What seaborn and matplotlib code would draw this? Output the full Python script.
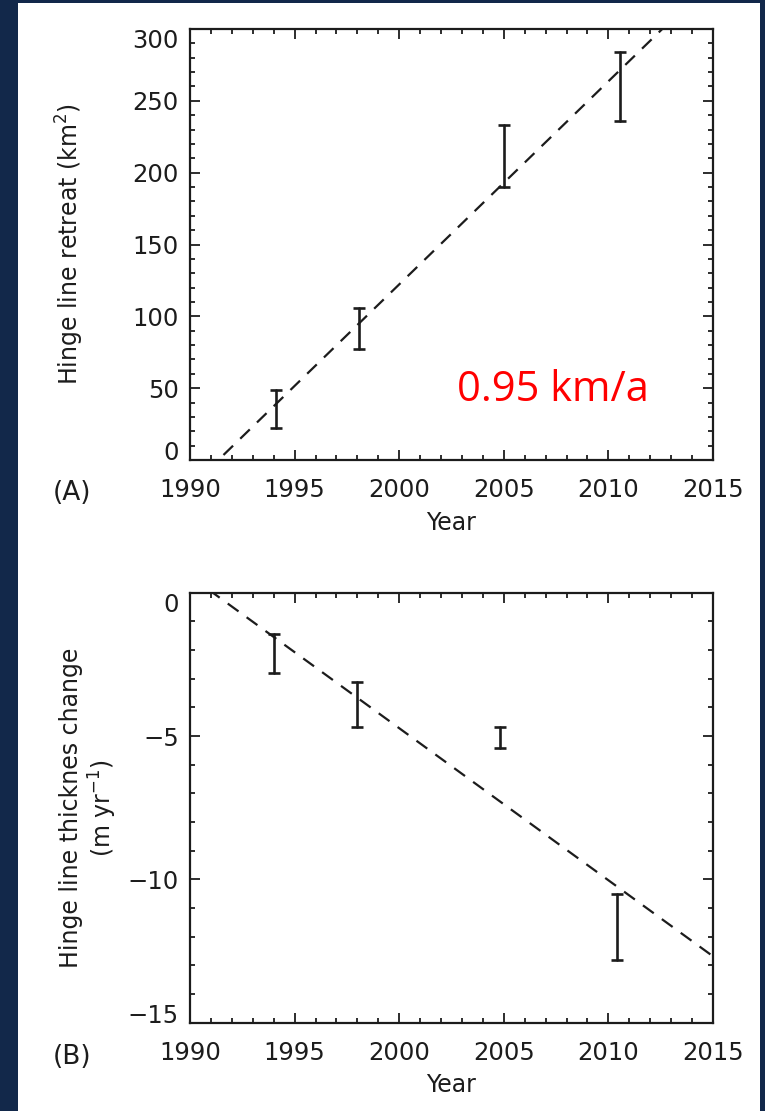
import matplotlib
matplotlib.use('Agg')
import matplotlib.pyplot as plt
import matplotlib.ticker as mticker
from matplotlib.patches import Rectangle
import seaborn as sns
import pandas as pd

# --- values ---
years_a = [1994.1, 1998.1, 2005.0, 2010.55]
retreat_low = [22, 77, 190, 236]
retreat_high = [49, 106, 233, 284]

years_b = [1994.0, 1998.0, 2004.8, 2010.4]
thick_low = [-2.8, -4.7, -5.4, -12.8]
thick_high = [-1.45, -3.1, -4.7, -10.5]

year_ticks = [1990, 1995, 2000, 2005, 2010, 2015]
retreat_ticks = [0, 50, 100, 150, 200, 250, 300]
thick_ticks = [-15, -10, -5, 0]
rate_note = '0.95 km/a'

NAVY = '#12284a'
INK = '#1c1c1c'

sns.set_theme(style='ticks')
plt.rcParams['font.family'] = ['DejaVu Sans']
plt.rcParams.update({
    'mathtext.default': 'regular',
    'axes.linewidth': 1.6,
    'axes.edgecolor': INK,
    'text.color': INK,
    'axes.labelcolor': INK,
    'xtick.color': INK,
    'ytick.color': INK,
})

fig = plt.figure(figsize=(7.65, 11.11), dpi=100)
fig.patch.set_facecolor(NAVY)
fig.add_artist(Rectangle((18 / 765, 0), (760 - 18) / 765, 1 - 3 / 1111,
                         transform=fig.transFigure, facecolor='white',
                         edgecolor='none', zorder=-10))

ax_a = fig.add_axes([190 / 765, 1 - 460 / 1111, 523 / 765, 431 / 1111])
ax_b = fig.add_axes([190 / 765, 1 - 1022.7 / 1111, 523 / 765, 430 / 1111])


def panel(ax, years, low, high, yticks, ystep, ylabel, label_x):
    ax.set_facecolor('white')
    ax.set_xlim(year_ticks[0], year_ticks[-1])
    ax.set_ylim(yticks[0], yticks[-1])

    # error bars: min..max of the low/high pair at each year
    df = pd.DataFrame({'year': years + years, 'value': low + high})
    sns.lineplot(data=df, x='year', y='value', estimator='mean',
                 errorbar=('pi', 100), err_style='bars', color=INK,
                 linestyle='', err_kws=dict(capsize=4.5, elinewidth=1.9,
                                            capthick=1.9), ax=ax)

    # linear trend through the bar centres, drawn across the whole axis
    centres = [(lo + hi) / 2 for lo, hi in zip(low, high)]
    sns.regplot(x=years, y=centres, scatter=False, ci=None, truncate=False,
                color=INK, line_kws=dict(lw=1.6, ls=(0, (6, 4.5))), ax=ax)

    ax.set_xlim(year_ticks[0], year_ticks[-1])
    ax.set_ylim(yticks[0], yticks[-1])
    ax.set_xticks(year_ticks)
    ax.set_yticks(yticks)
    ax.xaxis.set_minor_locator(mticker.MultipleLocator(1))
    ax.yaxis.set_minor_locator(mticker.MultipleLocator(ystep))
    ax.tick_params(which='both', direction='in', top=True, right=True,
                   width=1.3, labelsize=17.5)
    ax.tick_params(which='major', length=7.5)
    ax.tick_params(which='minor', length=3.5)
    ax.tick_params(axis='x', pad=13)
    ax.tick_params(axis='y', pad=8)

    labels = ax.get_yticklabels()
    labels[0].set_va('baseline')
    labels[-1].set_va('top')

    ax.set_xlabel('Year', fontsize=17)
    ax.set_ylabel(ylabel, fontsize=17, linespacing=1.15)
    ax.xaxis.set_label_coords(0.5, -0.118)
    ax.yaxis.set_label_coords(label_x, 0.5)
    for s in ax.spines.values():
        s.set_visible(True)


panel(ax_a, years_a, retreat_low, retreat_high, retreat_ticks, 10,
      'Hinge line retreat (km$^2$)', -0.198)
panel(ax_b, years_b, thick_low, thick_high, thick_ticks, 1,
      'Hinge line thicknes change\n(m yr$^{-1}$)', -0.136)

ax_a.text(0.694, 0.162, rate_note, transform=ax_a.transAxes, color='red',
          fontsize=30, family='Open Sans', ha='center', va='center')

fig.text(72 / 765, 1 - 493 / 1111, '(A)', fontsize=19, ha='center', va='center')
fig.text(72 / 765, 1 - 1057 / 1111, '(B)', fontsize=19, ha='center', va='center')

fig.savefig('out.png', dpi=100, facecolor=fig.get_facecolor())
